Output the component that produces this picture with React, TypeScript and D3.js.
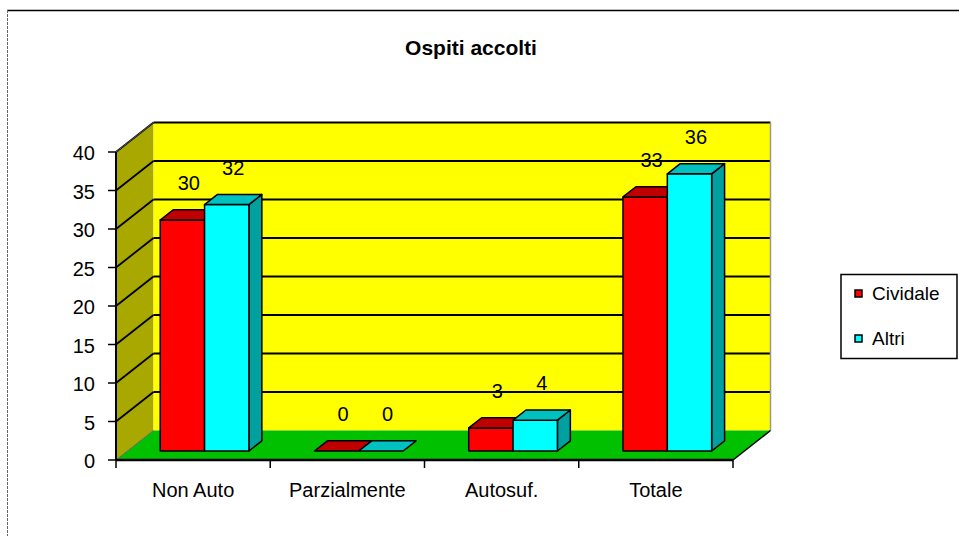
import React from "react";
import * as d3 from "d3";

const categories = ["Non Auto", "Parzialmente", "Autosuf.", "Totale"];
const seriesNames = ["Cividale", "Altri"];
const cividale = [30, 0, 3, 33];
const altri = [32, 0, 4, 36];
const yTicks = [0, 5, 10, 15, 20, 25, 30, 35, 40];
const title = "Ospiti accolti";

const seriesColors = [
  { front: "#FF0000", top: "#C00000", side: "#A00000" },
  { front: "#00FFFF", top: "#00C0C0", side: "#00A0A0" },
];

const W = 959;
const H = 536;
const x0 = 116;
const x1 = 733;
const yBottom = 460;
const yTop = 152;
const DX = 37.5;
const DY = -29.5;
const FONT = "'Liberation Sans', Arial, sans-serif";

export default function App() {
  const y = d3.scaleLinear().domain([0, 40]).range([yBottom, yTop]);
  const xb = d3.scaleBand<string>().domain(categories).range([x0, x1]).padding(0);
  const bw = xb.bandwidth();
  const groupW = bw * 0.575;
  const xs = d3
    .scaleBand<string>()
    .domain(seriesNames)
    .range([0, groupW])
    .padding(0);
  const barW = xs.bandwidth();
  const dFront = 0.305;
  const dBack = 0.65;
  const data = [cividale, altri];

  const pt = (x: number, yy: number, d: number) => [x + DX * d, yy + DY * d];
  const poly = (pts: number[][]) => pts.map((p) => p.join(",")).join(" ");

  const bars: React.ReactNode[] = [];
  const labels: React.ReactNode[] = [];
  categories.forEach((c, ci) => {
    data.forEach((vals, si) => {
      const v = vals[ci];
      const col = seriesColors[si];
      const xl = (xb(c) as number) + (bw - groupW) / 2 + (xs(seriesNames[si]) as number);
      const xr = xl + barW;
      const yt = y(v);
      const yb = y(0);
      const fTL = pt(xl, yt, dFront);
      const fTR = pt(xr, yt, dFront);
      const fBL = pt(xl, yb, dFront);
      const fBR = pt(xr, yb, dFront);
      const bTL = pt(xl, yt, dBack);
      const bTR = pt(xr, yt, dBack);
      const bBR = pt(xr, yb, dBack);
      const key = `${ci}-${si}`;
      if (v > 0) {
        bars.push(
          <polygon key={key + "s"} points={poly([fTR, bTR, bBR, fBR])} fill={col.side} stroke="#000" strokeWidth={1.5} strokeLinejoin="round" />
        );
        bars.push(
          <polygon key={key + "f"} points={poly([fTL, fTR, fBR, fBL])} fill={col.front} stroke="#000" strokeWidth={1.5} strokeLinejoin="round" />
        );
      }
      bars.push(
        <polygon key={key + "t"} points={poly([fTL, fTR, bTR, bTL])} fill={col.top} stroke="#000" strokeWidth={1.5} strokeLinejoin="round" />
      );
      const mid = pt((xl + xr) / 2, yt, (dFront + dBack) / 2);
      labels.push(
        <text key={key + "l"} x={mid[0]} y={mid[1] - 32} textAnchor="middle" dominantBaseline="central" fontSize={20} fontFamily={FONT} fill="#000">
          {v}
        </text>
      );
    });
  });

  const gridTicks = yTicks.filter((t) => t > 0);

  return (
    <svg width={W} height={H} style={{ position: "absolute", left: 0, top: 0, background: "#fff" }}>
      <rect x={0} y={0} width={W} height={H} fill="#fff" />
      {/* outer frame */}
      <line x1={7} y1={10.5} x2={W} y2={10.5} stroke="#000" strokeWidth={1.5} />
      <line x1={7.5} y1={10} x2={7.5} y2={H} stroke="#666" strokeWidth={1} strokeDasharray="3,1" />

      <text x={471} y={55} textAnchor="middle" fontSize={21} fontWeight="bold" fontFamily={FONT} fill="#000">
        {title}
      </text>

      {/* side wall */}
      <polygon points={poly([pt(x0, y(40), 0), pt(x0, y(40), 1), pt(x0, y(0), 1), pt(x0, y(0), 0)])} fill="#A8A800" />
      {/* back wall */}
      <polygon points={poly([pt(x0, y(40), 1), pt(x1, y(40), 1), pt(x1, y(0), 1), pt(x0, y(0), 1)])} fill="#FFFF00" />
      {/* gridlines */}
      {gridTicks.map((t) => (
        <g key={"g" + t}>
          <line x1={pt(x0, y(t), 0)[0]} y1={pt(x0, y(t), 0)[1]} x2={pt(x0, y(t), 1)[0]} y2={pt(x0, y(t), 1)[1]} stroke="#000" strokeWidth={1.8} />
          <line x1={pt(x0, y(t), 1)[0]} y1={pt(x0, y(t), 1)[1]} x2={pt(x1, y(t), 1)[0]} y2={pt(x1, y(t), 1)[1]} stroke="#000" strokeWidth={t === 40 ? 2.2 : 1.8} />
        </g>
      ))}
      {/* side wall top edge and back wall right edge */}
      <line x1={pt(x0, y(40), 0)[0]} y1={pt(x0, y(40), 0)[1]} x2={pt(x0, y(40), 1)[0]} y2={pt(x0, y(40), 1)[1]} stroke="#555" strokeWidth={1} />
      <line x1={pt(x1, y(40), 1)[0]} y1={pt(x1, y(40), 1)[1]} x2={pt(x1, y(0), 1)[0]} y2={pt(x1, y(0), 1)[1]} stroke="#999" strokeWidth={1.5} />
      {/* floor */}
      <polygon points={poly([pt(x0, y(0), 0), pt(x0, y(0), 1), pt(x1, y(0), 1), pt(x1, y(0), 0)])} fill="#00C000" />
      <line x1={pt(x0, y(0), 0)[0]} y1={pt(x0, y(0), 0)[1]} x2={pt(x0, y(0), 1)[0]} y2={pt(x0, y(0), 1)[1]} stroke="#666" strokeWidth={1} />
      <line x1={pt(x1, y(0), 0)[0]} y1={pt(x1, y(0), 0)[1]} x2={pt(x1, y(0), 1)[0]} y2={pt(x1, y(0), 1)[1]} stroke="#000" strokeWidth={1.5} />

      {/* y axis */}
      <line x1={x0} y1={y(40)} x2={x0} y2={y(0)} stroke="#000" strokeWidth={2} />
      {yTicks.map((t) => (
        <g key={"t" + t}>
          <line x1={x0 - 8} y1={y(t)} x2={x0} y2={y(t)} stroke="#000" strokeWidth={1.5} />
          <text x={95} y={y(t) + 1} textAnchor="end" dominantBaseline="central" fontSize={20} fontFamily={FONT} fill="#000">
            {t}
          </text>
        </g>
      ))}
      {/* x axis */}
      <line x1={x0} y1={y(0)} x2={x1} y2={y(0)} stroke="#000" strokeWidth={2.5} />
      {d3.range(categories.length + 1).map((i) => (
        <line key={"xt" + i} x1={x0 + i * bw} y1={y(0)} x2={x0 + i * bw} y2={y(0) + 8} stroke="#000" strokeWidth={1.5} />
      ))}
      {categories.map((c) => (
        <text key={"c" + c} x={(xb(c) as number) + bw / 2} y={497} textAnchor="middle" fontSize={20} fontFamily={FONT} fill="#000">
          {c}
        </text>
      ))}

      {bars}
      {labels}

      {/* legend */}
      <rect x={841} y={274.5} width={116} height={84} fill="#fff" stroke="#000" strokeWidth={1.5} />
      {seriesNames.map((s, i) => (
        <g key={"lg" + s}>
          <rect x={855} y={290 + i * 45} width={7} height={7} fill={seriesColors[i].front} stroke="#000" strokeWidth={1.5} />
          <text x={872} y={300 + i * 45} fontSize={19} fontFamily={FONT} fill="#000">
            {s}
          </text>
        </g>
      ))}
    </svg>
  );
}
